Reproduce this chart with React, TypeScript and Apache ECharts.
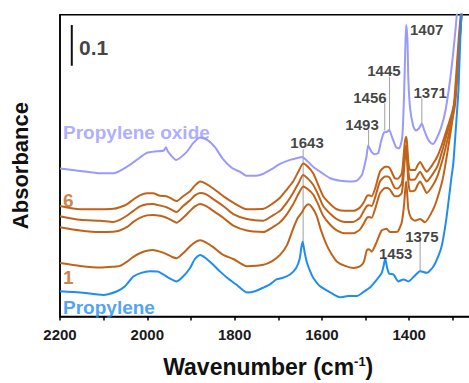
import React, { useEffect, useRef } from "react";
import * as echarts from "echarts";

// ---- data (wavenumber cm-1, absorbance) ----
const propyleneOxide: [number, number][] = [
  [2200, 0.363], [2154, 0.357], [2108, 0.351], [2074, 0.352], [2047, 0.367], [2028, 0.381],
  [2001, 0.401], [1978, 0.405], [1962, 0.407], [1957, 0.415], [1953, 0.405], [1934, 0.384],
  [1910, 0.403], [1895, 0.425], [1879, 0.439], [1861, 0.432], [1845, 0.415], [1826, 0.385],
  [1806, 0.364], [1788, 0.355], [1772, 0.345], [1751, 0.345], [1734, 0.35], [1714, 0.362],
  [1696, 0.374], [1673, 0.384], [1655, 0.389], [1646, 0.391], [1636, 0.384], [1620, 0.367],
  [1600, 0.352], [1581, 0.339], [1558, 0.333], [1536, 0.331], [1520, 0.333], [1508, 0.348],
  [1498, 0.391], [1494, 0.419], [1487, 0.405], [1480, 0.398], [1471, 0.401], [1465, 0.427],
  [1458, 0.451], [1451, 0.453], [1446, 0.457], [1439, 0.439], [1430, 0.415], [1423, 0.412],
  [1416, 0.439], [1412, 0.535], [1409, 0.655], [1407, 0.715], [1404, 0.679], [1402, 0.583],
  [1398, 0.511], [1391, 0.468], [1385, 0.456], [1378, 0.461], [1371, 0.473], [1366, 0.458],
  [1359, 0.439], [1352, 0.427], [1345, 0.423], [1336, 0.439], [1327, 0.463], [1318, 0.499],
  [1309, 0.559], [1302, 0.619], [1295, 0.691], [1290, 0.751], [1286, 0.8],
];

const run6: [number, number][] = [
  [2200, 0.271], [2154, 0.263], [2108, 0.263], [2078, 0.264], [2063, 0.268], [2047, 0.275],
  [2032, 0.287], [2017, 0.297], [2001, 0.302], [1987, 0.302], [1971, 0.296], [1956, 0.295],
  [1943, 0.288], [1933, 0.283], [1918, 0.295], [1902, 0.307], [1891, 0.321], [1879, 0.331],
  [1866, 0.326], [1849, 0.314], [1826, 0.295], [1803, 0.279], [1772, 0.263], [1734, 0.264],
  [1714, 0.276], [1696, 0.291], [1680, 0.312], [1666, 0.331], [1653, 0.357], [1643, 0.375],
  [1632, 0.367], [1620, 0.351], [1609, 0.324], [1597, 0.295], [1581, 0.276], [1566, 0.263],
  [1547, 0.259], [1528, 0.259], [1513, 0.267], [1504, 0.28], [1497, 0.295], [1492, 0.297],
  [1486, 0.295], [1478, 0.314], [1467, 0.355], [1455, 0.367], [1450, 0.367], [1444, 0.363],
  [1433, 0.339], [1426, 0.338], [1417, 0.351], [1413, 0.391], [1410, 0.427], [1407, 0.441],
  [1405, 0.427], [1402, 0.379], [1398, 0.359], [1387, 0.359], [1380, 0.372], [1375, 0.379],
  [1368, 0.367], [1360, 0.355], [1345, 0.375], [1334, 0.396], [1322, 0.431], [1311, 0.468],
  [1303, 0.495], [1295, 0.535], [1288, 0.631], [1281, 0.739], [1277, 0.8],
];

const run5: [number, number][] = [
  [2200, 0.246], [2154, 0.237], [2108, 0.235], [2078, 0.232], [2063, 0.237], [2047, 0.247],
  [2032, 0.259], [2017, 0.27], [2001, 0.275], [1987, 0.276], [1971, 0.272], [1956, 0.268],
  [1943, 0.261], [1933, 0.256], [1918, 0.271], [1902, 0.285], [1891, 0.297], [1879, 0.303],
  [1866, 0.3], [1849, 0.288], [1826, 0.271], [1803, 0.251], [1772, 0.239], [1734, 0.235],
  [1714, 0.247], [1696, 0.259], [1680, 0.28], [1666, 0.303], [1653, 0.328], [1643, 0.347],
  [1632, 0.338], [1620, 0.323], [1609, 0.3], [1597, 0.271], [1581, 0.252], [1566, 0.239],
  [1547, 0.232], [1528, 0.232], [1513, 0.242], [1504, 0.259], [1497, 0.271], [1492, 0.273],
  [1486, 0.271], [1478, 0.292], [1467, 0.331], [1455, 0.343], [1450, 0.343], [1444, 0.339],
  [1433, 0.315], [1426, 0.314], [1417, 0.327], [1413, 0.367], [1410, 0.403], [1407, 0.42],
  [1405, 0.403], [1402, 0.355], [1398, 0.335], [1387, 0.336], [1380, 0.348], [1375, 0.355],
  [1368, 0.343], [1360, 0.331], [1345, 0.351], [1334, 0.372], [1322, 0.415], [1311, 0.458],
  [1303, 0.487], [1295, 0.535], [1288, 0.631], [1280, 0.739], [1276, 0.8],
];

const run4: [number, number][] = [
  [2200, 0.219], [2154, 0.211], [2108, 0.207], [2078, 0.208], [2063, 0.211], [2047, 0.219],
  [2032, 0.232], [2017, 0.242], [2001, 0.248], [1987, 0.249], [1971, 0.247], [1956, 0.242],
  [1943, 0.235], [1933, 0.23], [1918, 0.242], [1902, 0.259], [1891, 0.27], [1879, 0.276],
  [1866, 0.271], [1849, 0.259], [1826, 0.242], [1803, 0.223], [1772, 0.211], [1734, 0.207],
  [1714, 0.218], [1696, 0.231], [1680, 0.251], [1666, 0.275], [1653, 0.302], [1643, 0.319],
  [1632, 0.312], [1620, 0.299], [1609, 0.276], [1597, 0.247], [1581, 0.225], [1566, 0.211],
  [1547, 0.204], [1528, 0.204], [1513, 0.213], [1504, 0.228], [1497, 0.242], [1492, 0.244],
  [1486, 0.242], [1478, 0.264], [1467, 0.302], [1455, 0.315], [1450, 0.315], [1444, 0.311],
  [1433, 0.295], [1426, 0.295], [1417, 0.303], [1413, 0.343], [1410, 0.386], [1407, 0.408],
  [1405, 0.386], [1402, 0.331], [1398, 0.307], [1387, 0.309], [1380, 0.324], [1375, 0.331],
  [1368, 0.319], [1360, 0.303], [1345, 0.323], [1334, 0.348], [1322, 0.391], [1311, 0.439],
  [1303, 0.475], [1295, 0.519], [1288, 0.619], [1280, 0.739], [1276, 0.8],
];

const run1: [number, number][] = [
  [2200, 0.131], [2154, 0.124], [2108, 0.12], [2078, 0.122], [2063, 0.124], [2047, 0.134],
  [2032, 0.146], [2017, 0.155], [2001, 0.161], [1987, 0.163], [1971, 0.159], [1956, 0.153],
  [1943, 0.146], [1933, 0.143], [1918, 0.155], [1902, 0.172], [1891, 0.182], [1879, 0.187],
  [1866, 0.182], [1849, 0.17], [1826, 0.151], [1803, 0.141], [1772, 0.123], [1734, 0.127],
  [1714, 0.136], [1696, 0.151], [1680, 0.175], [1666, 0.215], [1655, 0.242], [1646, 0.255],
  [1639, 0.268], [1631, 0.275], [1623, 0.268], [1612, 0.247], [1602, 0.211], [1589, 0.175],
  [1579, 0.155], [1566, 0.135], [1547, 0.124], [1528, 0.119], [1513, 0.123], [1504, 0.134],
  [1497, 0.163], [1492, 0.165], [1486, 0.159], [1476, 0.179], [1463, 0.211], [1452, 0.215],
  [1444, 0.207], [1433, 0.207], [1426, 0.208], [1417, 0.231], [1412, 0.271], [1409, 0.312],
  [1407, 0.331], [1405, 0.307], [1402, 0.264], [1396, 0.242], [1387, 0.235], [1375, 0.239],
  [1364, 0.231], [1345, 0.263], [1334, 0.295], [1322, 0.343], [1307, 0.439], [1299, 0.499],
  [1293, 0.583], [1286, 0.691], [1281, 0.751], [1278, 0.8],
];

const propylene: [number, number][] = [
  [2200, 0.062], [2154, 0.059], [2101, 0.053], [2069, 0.062], [2051, 0.074], [2032, 0.098],
  [2014, 0.107], [1994, 0.111], [1975, 0.11], [1963, 0.103], [1948, 0.093], [1933, 0.086],
  [1918, 0.098], [1902, 0.119], [1891, 0.141], [1879, 0.151], [1866, 0.143], [1849, 0.127],
  [1833, 0.11], [1815, 0.093], [1797, 0.079], [1772, 0.059], [1753, 0.062], [1734, 0.071],
  [1719, 0.079], [1704, 0.091], [1689, 0.095], [1673, 0.103], [1659, 0.119], [1651, 0.141],
  [1647, 0.17], [1644, 0.183], [1640, 0.16], [1635, 0.135], [1627, 0.111], [1620, 0.095],
  [1604, 0.074], [1581, 0.059], [1559, 0.047], [1540, 0.05], [1520, 0.05], [1506, 0.059],
  [1490, 0.071], [1476, 0.088], [1463, 0.107], [1458, 0.127], [1455, 0.143], [1451, 0.122],
  [1446, 0.105], [1436, 0.103], [1425, 0.086], [1413, 0.091], [1402, 0.086], [1389, 0.098],
  [1375, 0.111], [1360, 0.107], [1345, 0.122], [1334, 0.146], [1325, 0.175], [1314, 0.247],
  [1303, 0.343], [1299, 0.375], [1293, 0.463], [1287, 0.559], [1281, 0.739], [1277, 0.8],
];

// scale bar (0.1 absorbance)
const scaleBar: [number, number][] = [[2173, 0.615], [2173, 0.715]];

// peak annotations
const peakLabels = ["1643", "1493", "1456", "1445", "1407", "1371", "1453", "1375"];
const peakWavenumbers = [1643, 1493, 1456, 1445, 1407, 1371, 1453, 1375];
const leaderTop: (number | null)[] = [0.41, 0.458, 0.523, 0.588, null, 0.535, null, 0.187];
const leaderBottom: (number | null)[] = [0.182, 0.42, 0.456, 0.456, null, 0.475, null, 0.111];
const labelWavenumbers = [1634, 1508, 1490, 1458, 1360, 1352, 1431, 1371];
const labelAbsorbance = [0.427, 0.472, 0.537, 0.602, 0.704, 0.55, 0.155, 0.195];

// series name labels
const seriesNames = ["Propylene oxide", "6", "1", "Propylene"];
const seriesNameWavenumbers = [2193, 2193, 2193, 2193];
const seriesNameAbsorbance = [0.45, 0.285, 0.096, 0.022];

// x-axis ticks
const xMin = 1200;
const xMax = 2200;
const xInterval = 200;

const FONT = "'Liberation Sans', Arial, sans-serif";
const LAVENDER = "#9999ff";
const ORANGE = "#c0631a";
const BLUE = "#1e8cf5";
const nameColors = [LAVENDER, ORANGE, ORANGE, BLUE];

function lineSeries(name: string, data: [number, number][], color: string, z = 2) {
  return {
    type: "line",
    name,
    data,
    symbol: "none",
    showSymbol: false,
    smooth: 0.2,
    silent: true,
    z,
    lineStyle: { color, width: 2 },
    itemStyle: { color },
  };
}

export default function App() {
  const ref = useRef<HTMLDivElement>(null);
  useEffect(() => {
    if (!ref.current) return;
    const chart = echarts.init(ref.current, null, { renderer: "svg" });

    const leaderData: any[] = [];
    peakWavenumbers.forEach((w, i) => {
      if (leaderTop[i] == null) return;
      leaderData.push([w, leaderTop[i]], [w, leaderBottom[i]], [w, "-"]);
    });

    const option: any = {
      animation: false,
      backgroundColor: "#ffffff",
      textStyle: { fontFamily: FONT },
      grid: {
        left: 60,
        top: 14.7,
        right: 23.5,
        bottom: 60.3,
        show: true,
        borderColor: "#000",
        borderWidth: 1.5,
        backgroundColor: "transparent",
      },
      xAxis: {
        type: "value",
        min: xMin,
        max: xMax,
        interval: xInterval,
        inverse: true,
        axisLine: { show: true, lineStyle: { color: "#000", width: 1.5 } },
        axisTick: { show: true, length: 4, lineStyle: { color: "#000", width: 1.5 } },
        minorTick: { show: true, splitNumber: 2, length: 4, lineStyle: { color: "#000", width: 1.5 } },
        splitLine: { show: false },
        axisLabel: {
          fontSize: 15,
          fontWeight: "bold",
          color: "#1a1a1a",
          fontFamily: FONT,
          margin: 10,
          showMinLabel: false,
          formatter: (v: number) => String(v),
        },
        name: "{t|Wavenumber (cm}{s|-1}{t|)}",
        nameLocation: "middle",
        nameGap: 38,
        nameTextStyle: {
          padding: [0, 20, 0, 0],
          rich: {
            t: { fontSize: 23, fontWeight: "bold", color: "#111", fontFamily: FONT, lineHeight: 24 },
            s: { fontSize: 13, fontWeight: "bold", color: "#111", fontFamily: FONT, verticalAlign: "top", lineHeight: 24 },
          },
        },
      },
      yAxis: {
        type: "value",
        min: 0,
        max: 0.74,
        axisLine: { show: true, lineStyle: { color: "#000", width: 1.5 } },
        axisTick: { show: false },
        axisLabel: { show: false },
        splitLine: { show: false },
        name: "Absorbance",
        nameLocation: "middle",
        nameRotate: 90,
        nameGap: 29,
        nameTextStyle: { fontSize: 22, fontWeight: "bold", color: "#111", fontFamily: FONT },
      },
      series: [
        {
          type: "line",
          name: "leaders",
          data: leaderData,
          symbol: "none",
          silent: true,
          connectNulls: false,
          z: 1,
          lineStyle: { color: "#a0a0a0", width: 1 },
        },
        lineSeries("Propylene oxide", propyleneOxide, LAVENDER),
        lineSeries("6", run6, ORANGE),
        lineSeries("5", run5, ORANGE),
        lineSeries("4", run4, ORANGE),
        lineSeries("1", run1, ORANGE),
        lineSeries("Propylene", propylene, BLUE, 3),
        {
          type: "line",
          name: "scale",
          data: scaleBar,
          symbol: "none",
          silent: true,
          lineStyle: { color: "#111", width: 2 },
        },
        {
          type: "scatter",
          name: "peaks",
          symbolSize: 1,
          silent: true,
          itemStyle: { color: "transparent" },
          data: labelWavenumbers.map((w, i) => ({ value: [w, labelAbsorbance[i]], name: peakLabels[i] })),
          label: {
            show: true,
            position: "inside",
            formatter: "{b}",
            fontSize: 15,
            fontWeight: "bold",
            color: "#111",
            fontFamily: FONT,
          },
          z: 5,
        },
        {
          type: "scatter",
          name: "names",
          symbolSize: 1,
          silent: true,
          itemStyle: { color: "transparent" },
          data: seriesNames.map((n, i) => ({
            value: [seriesNameWavenumbers[i], seriesNameAbsorbance[i]],
            name: n,
            label: { color: nameColors[i] },
          })),
          label: {
            show: true,
            position: "inside",
            align: "left",
            verticalAlign: "middle",
            formatter: "{b}",
            fontSize: 19,
            fontWeight: "bold",
            fontFamily: FONT,
          },
          z: 5,
        },
        {
          type: "scatter",
          name: "scaleLabel",
          symbolSize: 1,
          silent: true,
          itemStyle: { color: "transparent" },
          data: [{ value: [2156.5, 0.66], name: "0.1" }],
          label: {
            show: true,
            position: "inside",
            align: "left",
            verticalAlign: "middle",
            formatter: "{b}",
            fontSize: 21,
            fontWeight: "bold",
            color: "#111",
            fontFamily: FONT,
          },
          z: 5,
        },
      ],
    };
    chart.setOption(option);
    return () => chart.dispose();
  }, []);
  return (
    <div
      ref={ref}
      style={{ position: "fixed", left: 0, top: 0, width: 520, height: 383 }}
    />
  );
}
